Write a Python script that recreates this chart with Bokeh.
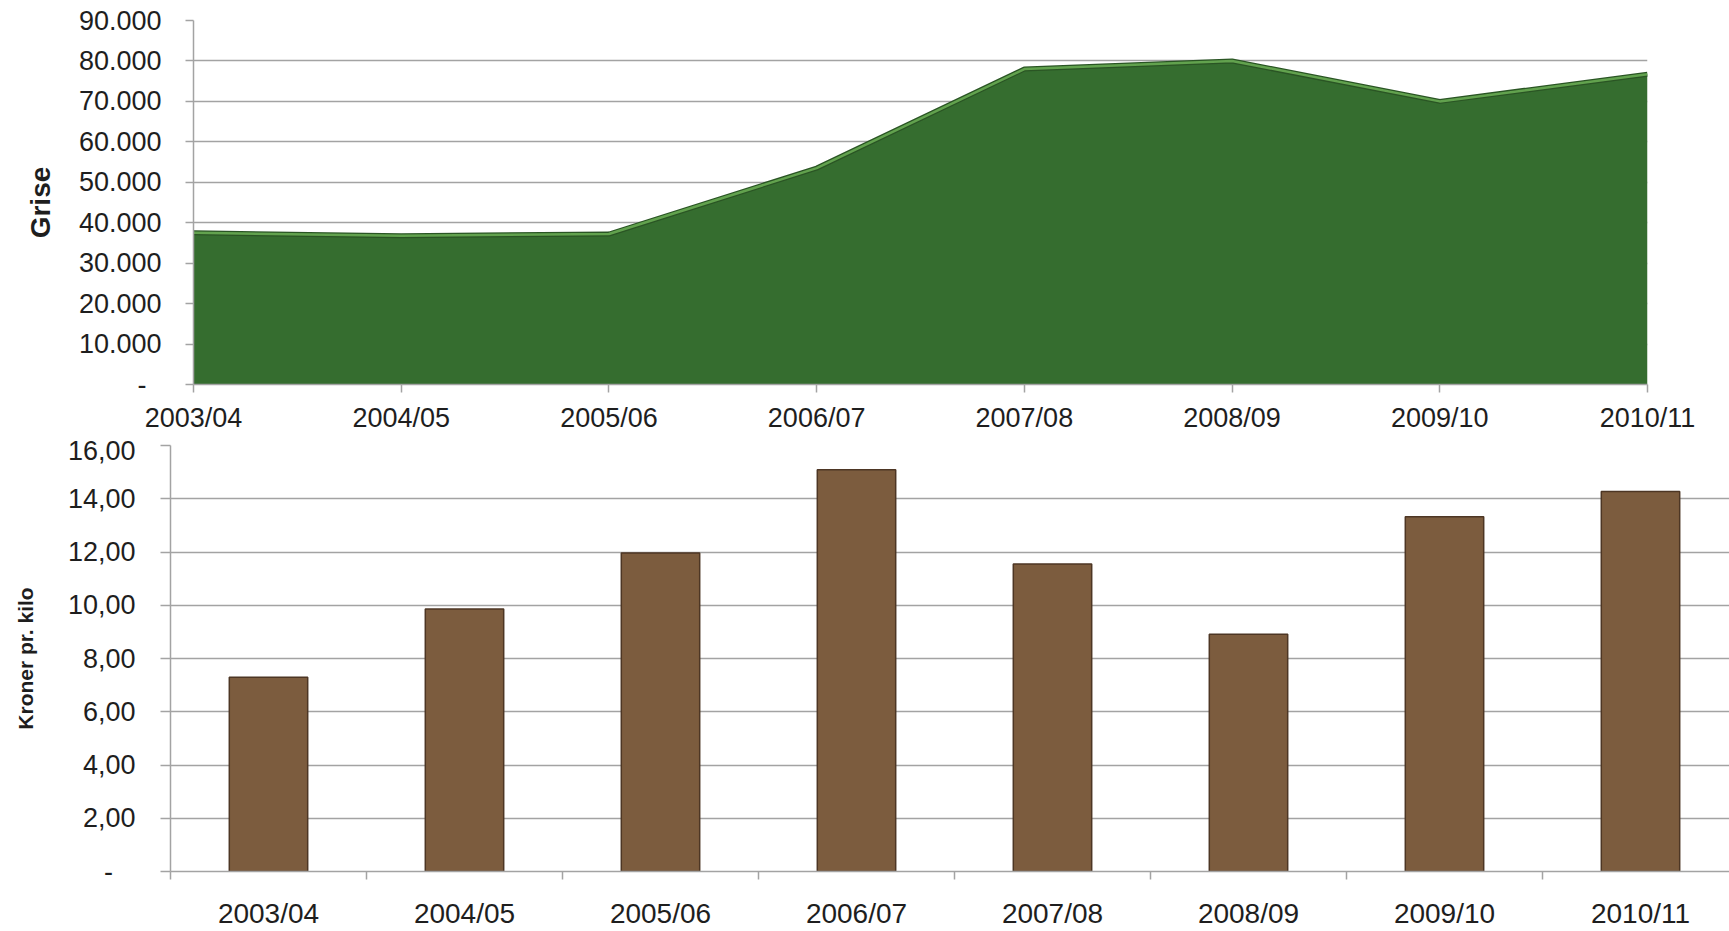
from bokeh.plotting import figure
from bokeh.models import FixedTicker, Range1d
from bokeh.embed import file_html
from bokeh.resources import INLINE

# ---- data ----
seasons = ["2003/04", "2004/05", "2005/06", "2006/07", "2007/08", "2008/09", "2009/10", "2010/11"]
pigs = [37500, 36800, 37200, 53500, 78000, 80000, 70000, 76700]
price = [7.30, 9.86, 11.96, 15.09, 11.55, 8.91, 13.32, 14.27]
pig_ticks = [0, 10000, 20000, 30000, 40000, 50000, 60000, 70000, 80000, 90000]
pig_tick_labels = ["-\u00a0\u00a0", "10.000", "20.000", "30.000", "40.000", "50.000",
                   "60.000", "70.000", "80.000", "90.000"]
price_ticks = [0, 2, 4, 6, 8, 10, 12, 14, 16]
price_tick_labels = ["-\u00a0\u00a0\u00a0", "2,00", "4,00", "6,00", "8,00", "10,00",
                     "12,00", "14,00", "16,00"]

FONT = "Liberation Sans"
TXT = "#1e1e1e"
GRID = "#a3a3a3"
idx = list(range(len(seasons)))
W = 1729

# ---- top: area chart ----
p1 = figure(width=W, height=435, output_backend="svg", toolbar_location=None,
            x_range=Range1d(0, len(seasons) - 1), y_range=Range1d(0, pig_ticks[-1]),
            min_border_left=193, min_border_right=82, min_border_top=20, min_border_bottom=49)
p1.outline_line_color = None
p1.xgrid.grid_line_color = None
p1.ygrid.grid_line_color = GRID
p1.ygrid.grid_line_width = 1.5
p1.ygrid.ticker = FixedTicker(ticks=pig_ticks)

p1.varea(x=idx, y1=0, y2=pigs, fill_color="#356d2f")
p1.line(x=idx, y=pigs, line_color="#2a5524", line_width=5, line_join="round")
p1.line(x=idx, y=pigs, line_color="#62a24e", line_width=2.5, line_join="round")

p1.yaxis.ticker = FixedTicker(ticks=pig_ticks)
p1.yaxis.major_label_overrides = {t: l for t, l in zip(pig_ticks, pig_tick_labels)}
p1.yaxis.axis_label = "Grise"
p1.xaxis.ticker = FixedTicker(ticks=idx)
p1.xaxis.major_label_overrides = {i: s for i, s in zip(idx, seasons)}

for ax in (p1.xaxis[0], p1.yaxis[0]):
    ax.axis_line_color = GRID
    ax.axis_line_width = 1.5
    ax.major_tick_line_color = GRID
    ax.major_tick_line_width = 1.5
    ax.major_tick_in = 0
    ax.major_tick_out = 8
    ax.minor_tick_line_color = None
    ax.major_label_text_font = FONT
    ax.major_label_text_font_size = "27px"
    ax.major_label_text_color = TXT
    ax.axis_label_text_font = FONT
    ax.axis_label_text_font_style = "bold"
    ax.axis_label_text_color = TXT
p1.yaxis.major_label_standoff = 24
p1.yaxis.axis_label_text_font_size = "28px"
p1.yaxis.axis_label_standoff = 20
p1.xaxis.major_label_standoff = 10

# ---- bottom: bar chart ----
cat_w = 196.0
left2 = 170
p2 = figure(width=W, height=496, output_backend="svg", toolbar_location=None,
            x_range=Range1d(-0.5, -0.5 + (W - left2) / cat_w), y_range=Range1d(0, price_ticks[-1]),
            min_border_left=left2, min_border_right=0, min_border_top=10, min_border_bottom=57)
p2.outline_line_color = None
p2.xgrid.grid_line_color = None
p2.ygrid.grid_line_color = GRID
p2.ygrid.grid_line_width = 1.5
p2.ygrid.ticker = FixedTicker(ticks=price_ticks)

p2.vbar(x=idx, top=price, bottom=0, width=0.40, fill_color="#7c5c3e",
        line_color="#4d3624", line_width=1.5)

p2.yaxis.ticker = FixedTicker(ticks=price_ticks)
p2.yaxis.major_label_overrides = {t: l for t, l in zip(price_ticks, price_tick_labels)}
p2.yaxis.axis_label = "Kroner pr. kilo"
p2.xaxis.ticker = FixedTicker(ticks=idx, minor_ticks=[i - 0.5 for i in range(len(seasons) + 1)])
p2.xaxis.major_label_overrides = {i: s for i, s in zip(idx, seasons)}

for ax in (p2.xaxis[0], p2.yaxis[0]):
    ax.axis_line_color = GRID
    ax.axis_line_width = 1.5
    ax.major_tick_line_color = GRID
    ax.major_tick_line_width = 1.5
    ax.major_tick_in = 0
    ax.major_tick_out = 10
    ax.major_label_text_font = FONT
    ax.major_label_text_font_size = "27px"
    ax.major_label_text_color = TXT
    ax.axis_label_text_font = FONT
    ax.axis_label_text_font_style = "bold"
    ax.axis_label_text_color = TXT
p2.yaxis.minor_tick_line_color = None
p2.yaxis.major_label_standoff = 25
p2.yaxis.axis_label_text_font_size = "21px"
p2.yaxis.axis_label_standoff = 28
p2.xaxis.major_tick_out = 0
p2.xaxis.minor_tick_out = 8
p2.xaxis.minor_tick_in = 0
p2.xaxis.minor_tick_line_color = GRID
p2.xaxis.minor_tick_line_width = 1.5
p2.xaxis.major_label_text_font_size = "28px"
p2.xaxis.major_label_standoff = 18

open("out.html", "w").write(file_html([p1, p2], INLINE))
